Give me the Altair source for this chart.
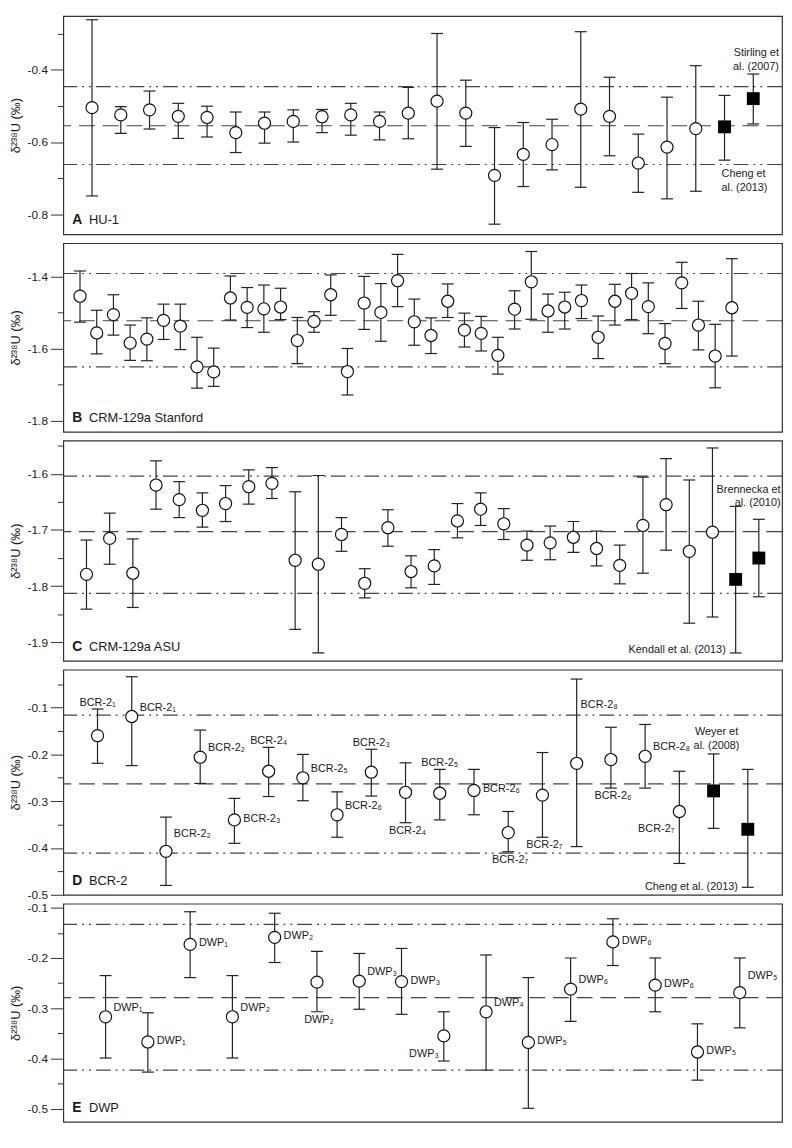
import altair as alt
import pandas as pd

FONT = "Liberation Sans"
YTITLE = "δ²³⁸U (‰)"
W = 728

# ---------------- Panel A : HU-1 ----------------
a_val = [-0.505, -0.525, -0.511, -0.529, -0.532, -0.574, -0.548, -0.543, -0.530, -0.525, -0.543, -0.520,
         -0.487, -0.520, -0.692, -0.634, -0.607, -0.509, -0.529, -0.658, -0.614, -0.563, -0.558, -0.480]
a_hi = [-0.262, -0.502, -0.459, -0.493, -0.501, -0.517, -0.517, -0.511, -0.510, -0.493, -0.517, -0.449,
        -0.300, -0.429, -0.560, -0.546, -0.537, -0.295, -0.421, -0.578, -0.476, -0.389, -0.471, -0.412]
a_lo = [-0.749, -0.576, -0.564, -0.590, -0.586, -0.629, -0.603, -0.600, -0.574, -0.581, -0.594, -0.591,
        -0.675, -0.612, -0.827, -0.723, -0.677, -0.725, -0.638, -0.739, -0.757, -0.736, -0.650, -0.550]
a_kind = ["open"] * 22 + ["filled"] * 2
a_lines = [-0.447, -0.555, -0.662]

# ---------------- Panel B : CRM-129a Stanford ----------------
b_val = [-1.455, -1.557, -1.506, -1.585, -1.574, -1.522, -1.538, -1.651, -1.665, -1.460,
         -1.486, -1.490, -1.485, -1.578, -1.525, -1.451, -1.664, -1.474, -1.500, -1.412,
         -1.526, -1.564, -1.469, -1.549, -1.558, -1.619, -1.491, -1.415, -1.496, -1.485,
         -1.467, -1.569, -1.469, -1.447, -1.484, -1.586, -1.418, -1.535, -1.621, -1.487]
b_hi = [-1.385, -1.494, -1.451, -1.535, -1.515, -1.477, -1.477, -1.569, -1.599, -1.399,
        -1.431, -1.424, -1.433, -1.514, -1.498, -1.396, -1.600, -1.400, -1.420, -1.339,
        -1.463, -1.515, -1.421, -1.502, -1.511, -1.569, -1.440, -1.331, -1.449, -1.444,
        -1.424, -1.510, -1.422, -1.392, -1.418, -1.531, -1.361, -1.469, -1.533, -1.351]
b_lo = [-1.527, -1.615, -1.563, -1.633, -1.634, -1.575, -1.603, -1.710, -1.705, -1.521,
        -1.542, -1.555, -1.520, -1.642, -1.555, -1.508, -1.729, -1.547, -1.580, -1.484,
        -1.591, -1.614, -1.514, -1.596, -1.607, -1.671, -1.546, -1.519, -1.555, -1.546,
        -1.517, -1.628, -1.535, -1.520, -1.559, -1.642, -1.489, -1.604, -1.709, -1.621]
b_kind = ["open"] * 40
b_lines = [-1.392, -1.523, -1.651]

# ---------------- Panel C : CRM-129a ASU ----------------
c_val = [-1.779, -1.715, -1.777, -1.620, -1.646, -1.665, -1.653, -1.623, -1.617, -1.754,
         -1.761, -1.708, -1.795, -1.696, -1.774, -1.764, -1.684, -1.663, -1.689, -1.727,
         -1.723, -1.713, -1.733, -1.763, -1.692, -1.655, -1.738, -1.704, -1.788, -1.750]
c_hi = [-1.718, -1.670, -1.716, -1.577, -1.614, -1.634, -1.621, -1.593, -1.589, -1.632,
        -1.603, -1.678, -1.769, -1.664, -1.746, -1.735, -1.653, -1.634, -1.662, -1.702,
        -1.693, -1.685, -1.702, -1.727, -1.606, -1.573, -1.611, -1.554, -1.658, -1.681]
c_lo = [-1.841, -1.761, -1.838, -1.663, -1.678, -1.695, -1.685, -1.654, -1.644, -1.877,
        -1.919, -1.738, -1.821, -1.729, -1.803, -1.797, -1.714, -1.692, -1.717, -1.754,
        -1.753, -1.740, -1.764, -1.796, -1.777, -1.736, -1.866, -1.855, -1.919, -1.819]
c_kind = ["open"] * 28 + ["filled"] * 2
c_lines = [-1.604, -1.703, -1.813]

# ---------------- Panel D : BCR-2 ----------------
d_val = [-0.160, -0.119, -0.407, -0.206, -0.340, -0.236, -0.250, -0.329, -0.238, -0.281,
         -0.283, -0.277, -0.367, -0.287, -0.219, -0.211, -0.204, -0.322, -0.278, -0.360]
d_hi = [-0.103, -0.034, -0.334, -0.148, -0.294, -0.185, -0.200, -0.280, -0.189, -0.218,
        -0.232, -0.232, -0.322, -0.196, -0.039, -0.142, -0.136, -0.236, -0.199, -0.232]
d_lo = [-0.219, -0.224, -0.480, -0.262, -0.390, -0.290, -0.299, -0.377, -0.289, -0.346,
        -0.340, -0.329, -0.408, -0.377, -0.397, -0.272, -0.272, -0.433, -0.358, -0.484]
d_kind = ["open"] * 18 + ["filled"] * 2
d_labels = ["BCR-2₁", "BCR-2₁", "BCR-2₂", "BCR-2₂", "BCR-2₃", "BCR-2₄", "BCR-2₅", "BCR-2₆",
            "BCR-2₃", "BCR-2₄", "BCR-2₅", "BCR-2₆", "BCR-2₇", "BCR-2₇", "BCR-2₈", "BCR-2₆",
            "BCR-2₈", "BCR-2₇", "", ""]
d_places = ["above", "upper right", "high right", "upper right", "right", "above", "upper right",
            "upper right", "above", "below", "above", "right", "below", "below", "beside top",
            "below", "upper right", "lower left", "", ""]
d_lines = [-0.116, -0.263, -0.411]

# ---------------- Panel E : DWP ----------------
e_val = [-0.317, -0.367, -0.173, -0.317, -0.159, -0.248, -0.246, -0.247,
         -0.355, -0.307, -0.368, -0.262, -0.168, -0.254, -0.387, -0.269]
e_hi = [-0.235, -0.309, -0.108, -0.235, -0.111, -0.187, -0.191, -0.181,
        -0.307, -0.194, -0.239, -0.200, -0.122, -0.200, -0.331, -0.200]
e_lo = [-0.399, -0.427, -0.239, -0.399, -0.209, -0.307, -0.302, -0.312,
        -0.405, -0.423, -0.499, -0.326, -0.215, -0.307, -0.443, -0.339]
e_kind = ["open"] * 16
e_labels = ["DWP₁", "DWP₁", "DWP₁", "DWP₂", "DWP₂", "DWP₂", "DWP₃", "DWP₃",
            "DWP₃", "DWP₄", "DWP₅", "DWP₆", "DWP₆", "DWP₆", "DWP₅", "DWP₅"]
e_places = ["upper right", "right", "right", "upper right", "right", "below", "upper right", "right",
            "lower left", "upper right", "right", "upper right", "right", "right", "right", "high right"]
e_lines = [-0.133, -0.279, -0.423]

# label placement styles (offsets relative to the anchor point)
PLACES = {
    "right": dict(anchor="val", dx=9, dy=-1, align="left", baseline="middle"),
    "upper right": dict(anchor="val", dx=8, dy=-9, align="left", baseline="middle"),
    "high right": dict(anchor="val", dx=8, dy=-17, align="left", baseline="middle"),
    "above": dict(anchor="hi", dx=0, dy=-1, align="center", baseline="bottom"),
    "below": dict(anchor="lo", dx=2, dy=2, align="center", baseline="top"),
    "beside top": dict(anchor="hi", dx=4, dy=26, align="left", baseline="middle"),
    "lower left": dict(anchor="val", dx=-5, dy=18, align="right", baseline="middle"),
}

TXT = "#1a1a1a"


def panel(vals, his, los, kinds, lines, ydom, xmax, height, letter, name, ticks, major_test,
          labels=None, places=None, cites=()):
    n = len(vals)
    df = pd.DataFrame({"i": list(range(1, n + 1)), "val": vals, "hi": his, "lo": los, "kind": kinds,
                       "label": labels if labels else [""] * n,
                       "place": places if places else [""] * n})
    xs = alt.Scale(domain=[0, xmax], nice=False, zero=False)
    ys = alt.Scale(domain=ydom, nice=False, zero=False)
    ax = alt.Axis(values=ticks,
                  labelExpr=f"({major_test}) ? '-' + format(abs(datum.value), '.1f') : ''",
                  tickSize={"condition": {"test": major_test, "value": 13}, "value": 6},
                  domain=False, grid=False, tickColor="#333", tickWidth=1,
                  labelFont=FONT, labelFontSize=12, labelColor=TXT, labelPadding=3,
                  labelOverlap=False, labelFlush=False,
                  titleFont=FONT, titleFontSize=13, titleFontWeight="normal", titleColor=TXT,
                  titlePadding=5)

    def X():
        return alt.X("i:Q", scale=xs, axis=None)

    def Y(f):
        return alt.Y(f"{f}:Q", scale=ys, axis=ax, title=YTITLE)

    ldf = pd.DataFrame({"y": lines, "kind": ["band", "mid", "band"]})
    layers = [
        alt.Chart(ldf).transform_filter("datum.kind == 'band'").mark_rule(
            color="#444", strokeWidth=1.2, strokeDash=[15, 5, 2, 5, 2, 5]).encode(y=Y("y")),
        alt.Chart(ldf).transform_filter("datum.kind == 'mid'").mark_rule(
            color="#444", strokeWidth=1.2, strokeDash=[16, 8]).encode(y=Y("y")),
    ]
    base = alt.Chart(df)
    layers += [
        base.mark_rule(color="#222", strokeWidth=1.2).encode(x=X(), y=Y("lo"), y2=alt.Y2("hi:Q")),
        base.mark_tick(orient="horizontal", size=12, thickness=1.2, color="#222", opacity=1).encode(
            x=X(), y=Y("hi")),
        base.mark_tick(orient="horizontal", size=12, thickness=1.2, color="#222", opacity=1).encode(
            x=X(), y=Y("lo")),
        base.transform_filter("datum.kind == 'open'").mark_point(
            shape="circle", filled=True, fill="white", stroke="#111", strokeWidth=1.2,
            size=150, opacity=1).encode(x=X(), y=Y("val")),
        base.transform_filter("datum.kind == 'filled'").mark_square(
            color="#000", size=170, opacity=1).encode(x=X(), y=Y("val")),
    ]
    used = sorted(set(p for p in df["place"] if p))
    for p in used:
        s = PLACES[p]
        layers.append(
            base.transform_filter(f"datum.place == '{p}'").mark_text(
                align=s["align"], baseline=s["baseline"], dx=s["dx"], dy=s["dy"],
                font=FONT, fontSize=11, color=TXT).encode(
                x=X(), y=Y(s["anchor"]), text="label:N"))
    for (text, idx, field, align, baseline, dx, dy) in cites:
        row = df.iloc[idx - 1]
        cdf = pd.DataFrame({"i": [idx], "y": [row[field]], "t": [text]})
        layers.append(
            alt.Chart(cdf).mark_text(align=align, baseline=baseline, dx=dx, dy=dy, font=FONT,
                                     fontSize=11, color=TXT, lineBreak="\n", lineHeight=14).encode(
                x=X(), y=Y("y"), text="t:N"))
    layers.append(
        alt.Chart(pd.DataFrame({"t": [letter]})).mark_text(
            align="left", baseline="middle", font=FONT, fontSize=14, fontWeight="bold",
            color=TXT).encode(x=alt.value(9), y=alt.value(height - 14), text="t:N"))
    layers.append(
        alt.Chart(pd.DataFrame({"t": [name]})).mark_text(
            align="left", baseline="middle", font=FONT, fontSize=13, color=TXT).encode(
            x=alt.value(26), y=alt.value(height - 14), text="t:N"))
    return alt.layer(*layers).properties(width=W, height=height)


T1 = "abs(round(datum.value * 10)) % 2 == 0"
T2 = "abs(round(datum.value * 100)) % 10 == 0"

pA = panel(a_val, a_hi, a_lo, a_kind, a_lines, [-0.855, -0.252], 25, 221, "A", "HU-1",
           [-0.8, -0.7, -0.6, -0.5, -0.4, -0.3], T1,
           cites=[("Stirling et\nal. (2007)", 24, "hi", "right", "bottom", 26, -16),
                  ("Cheng et\nal. (2013)", 23, "lo", "left", "top", -3, 8)])
pB = panel(b_val, b_hi, b_lo, b_kind, b_lines, [-1.831, -1.308], 43, 191, "B", "CRM-129a Stanford",
           [-1.8, -1.7, -1.6, -1.5, -1.4], T1)
pC = panel(c_val, c_hi, c_lo, c_kind, c_lines, [-1.933, -1.541], 31, 223, "C", "CRM-129a ASU",
           [-1.9, -1.85, -1.8, -1.75, -1.7, -1.65, -1.6, -1.55], T2,
           cites=[("Brennecka et\nal. (2010)", 30, "hi", "right", "bottom", 22, -25),
                  ("Kendall et al. (2013)", 29, "lo", "right", "middle", -10, -3)])
pD = panel(d_val, d_hi, d_lo, d_kind, d_lines, [-0.5, -0.019], 21, 228, "D", "BCR-2",
           [-0.5, -0.45, -0.4, -0.35, -0.3, -0.25, -0.2, -0.15, -0.1, -0.05], T2,
           labels=d_labels, places=d_places,
           cites=[("Weyer et\nal. (2008)", 19, "hi", "center", "bottom", 3, -17),
                  ("Cheng et al. (2013)", 20, "lo", "right", "middle", -10, 0)])
pE = panel(e_val, e_hi, e_lo, e_kind, e_lines, [-0.526, -0.092], 17, 221, "E", "DWP",
           [-0.5, -0.45, -0.4, -0.35, -0.3, -0.25, -0.2, -0.15, -0.1], T2,
           labels=e_labels, places=e_places)

chart = alt.vconcat(pA, pB, pC, pD, pE, spacing=9, bounds="flush").properties(
    padding=0
).configure_view(stroke="#333", strokeWidth=1.2)

chart.save("out.html", embed_options={"renderer": "svg", "actions": False})
